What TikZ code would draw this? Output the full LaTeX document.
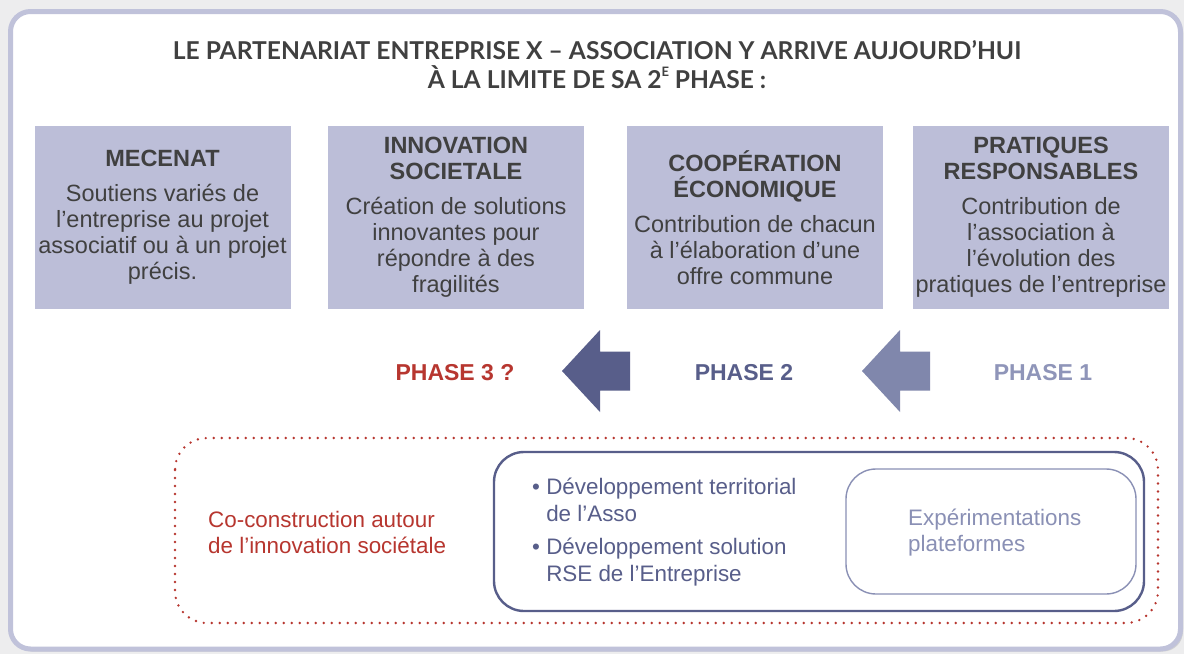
\documentclass[tikz,border=0pt]{standalone}
\usepackage{fontspec}
\setmainfont{Liberation Sans}
\newfontfamily\titlefont{Lato}
\usepackage{xcolor}
\usetikzlibrary{positioning}
\definecolor{pagegray}{HTML}{EDEDEE}
\definecolor{frameline}{HTML}{C0C2DA}
\definecolor{pillarfill}{HTML}{BCBED8}
\definecolor{textgray}{HTML}{404040}
\definecolor{phasedark}{HTML}{585E8A}
\definecolor{phaselight}{HTML}{8087AC}
\definecolor{phasepale}{HTML}{8F95B9}
\definecolor{phasered}{HTML}{B7362F}
\definecolor{inneredge}{HTML}{8A90B5}
\tikzstyle{pillar} = [
  rectangle, fill=pillarfill, inner sep=0pt,
  minimum width=256pt, minimum height=183pt,
  align=center, text=textgray, font=\fontsize{23.5}{26}\selectfont
]
\tikzstyle{phaselabel} = [font=\fontsize{23}{26}\selectfont\bfseries]
\tikzstyle{bodytext} = [anchor=west, align=left, inner sep=0pt, font=\fontsize{22.4}{26.5}\selectfont]

\begin{document}
\begin{tikzpicture}[x=1pt, y=-1pt]

  \useasboundingbox (0, 0) rectangle (1184, 654);
  \fill[pagegray] (0, 0) rectangle (1184, 654);

  % frame
  \fill[gray!35, rounded corners=20pt] (12, 13) rectangle (1183, 651.5);
  \draw[frameline, fill=white, line width=5pt, rounded corners=20pt] (10.5, 11.5) rectangle (1180.5, 649);

  \node[text=textgray, align=center, font=\titlefont\bfseries\fontsize{24.6}{29}\selectfont] (title) at (597, 64.5)
    {LE PARTENARIAT ENTREPRISE X – ASSOCIATION Y ARRIVE AUJOURD’HUI\\
     À LA LIMITE DE SA 2\raisebox{0.5em}{\fontsize{13}{13}\selectfont E} PHASE :};

  \node[pillar] (mecenat) at (162.5, 217.5) {\textbf{MECENAT}\\[9pt]
    Soutiens variés de\\ l’entreprise au projet\\ associatif ou à un projet\\ précis.};
  \node[pillar] (innovation) at (456, 217.5) {\textbf{INNOVATION}\\ \textbf{SOCIETALE}\\[9pt]
    Création de solutions\\ innovantes pour\\ répondre à des\\ fragilités};
  \node[pillar] (cooperation) at (755, 217.5) {\textbf{COOPÉRATION}\\ \textbf{ÉCONOMIQUE}\\[9pt]
    Contribution de chacun\\ à l’élaboration d’une\\ offre commune};
  \node[pillar] (pratiques) at (1041, 217.5) {\textbf{PRATIQUES}\\ \textbf{RESPONSABLES}\\[9pt]
    Contribution de\\ l’association à\\ l’évolution des\\ pratiques de l’entreprise};

  % phases
  \fill[phasedark] (562, 371) -- ++(38, -41) -- ++(0, 21.5) -- ++(30, 0) -- ++(0, 39) -- ++(-30, 0) -- ++(0, 21.5) -- cycle;
  \fill[phaselight] (862, 371) -- ++(38, -41) -- ++(0, 21.5) -- ++(30, 0) -- ++(0, 39) -- ++(-30, 0) -- ++(0, 21.5) -- cycle;

  \node[phaselabel, text=phasered] (phase3) at (455, 373) {PHASE 3 ?};
  \node[phaselabel, text=phasedark] (phase2) at (744, 373) {PHASE 2};
  \node[phaselabel, text=phasepale] (phase1) at (1043, 373) {PHASE 1};

  % co-construction
  \draw[phasered, line width=2.6pt, line cap=round, dash pattern=on 0pt off 8pt, rounded corners=32pt]
    (175, 438) rectangle (1158, 623);
  \draw[phasedark, line width=2.4pt, rounded corners=30pt] (494, 452) rectangle (1144, 611);
  \draw[inneredge, line width=1.4pt, rounded corners=30pt] (846, 469) rectangle (1136, 594);

  \node[bodytext, text=phasered] (coconst) at (208, 532.5)
    {Co-construction autour\\ de l’innovation sociétale};
  \node[bodytext, text=phasedark] (devel) at (532, 532)
    {\textbullet~Développement territorial\\ \phantom{\textbullet~}de l’Asso\\[7pt]
     \textbullet~Développement solution\\ \phantom{\textbullet~}RSE de l’Entreprise};
  \node[bodytext, text=inneredge] (experim) at (908, 532.5)
    {Expérimentations\\ plateformes};

\end{tikzpicture}
\end{document}
